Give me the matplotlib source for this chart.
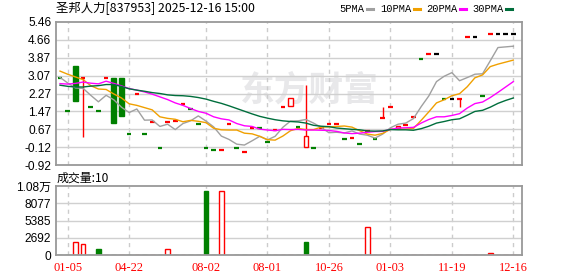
import matplotlib
matplotlib.use('Agg')
import matplotlib.pyplot as plt
from matplotlib.lines import Line2D

# datos (60 velas)
aperturas = [2.94, 1.48, 3.49, 2.94, 1.65, 1.48, 2.94, 2.95, 2.95, 0.45,
             2.27, 0.45, 0.98, -0.16, 0.98, 1.04, 1.80, 1.60, 0.93, -0.16,
             -0.27, -0.27, 0.89, -0.16, -0.36, 0.71, 0.71, 0.09, 0.66, 1.65,
             1.71, 0.76, -0.13, -0.16, 0.71, 0.89, 0.89, 0.24, 0.28, 0.02,
             0.61, 0.24, 1.16, 1.65, 0.72, 0.85, 1.23, 3.83, 4.05, 4.05,
             2.03, 2.03, 2.03, 4.78, 4.78, 2.14, 4.94, 4.94, 4.94, 4.94]
cierres = [2.94, 1.48, 1.94, 2.94, 1.65, 1.48, 2.94, 0.96, 1.28, 0.45,
           2.27, 0.45, 0.98, -0.16, 0.98, 1.04, 1.80, 1.60, 0.93, -0.16,
           -0.27, -0.27, 0.89, -0.16, -0.36, 0.71, 0.71, 0.09, 0.66, 1.65,
           2.09, 0.76, 0.39, -0.16, 0.71, 0.89, 0.89, 0.24, 0.28, 0.02,
           0.61, 0.24, 1.16, 1.65, 0.84, 0.85, 1.23, 3.83, 4.05, 4.05,
           2.03, 2.03, 2.03, 4.78, 4.78, 2.14, 4.94, 4.94, 4.94, 4.94]
maximos = [2.94, 1.48, 3.49, 2.94, 1.65, 1.48, 2.94, 2.95, 2.95, 0.45,
           2.27, 0.45, 0.98, -0.16, 0.98, 1.04, 1.80, 1.60, 0.93, -0.16,
           -0.27, -0.27, 0.89, -0.16, -0.36, 0.71, 0.71, 0.09, 0.66, 1.65,
           2.09, 0.76, 2.63, -0.16, 0.71, 0.89, 0.89, 0.24, 0.28, 0.02,
           0.61, 0.24, 1.65, 1.65, 0.84, 0.85, 1.23, 3.83, 4.05, 4.05,
           2.03, 2.03, 2.03, 4.78, 4.78, 2.14, 4.94, 4.94, 4.94, 4.94]
minimos = [2.94, 1.48, 1.94, 0.31, 1.65, 1.48, 2.94, 0.96, 1.28, 0.45,
           2.27, 0.45, 0.98, -0.16, 0.98, 1.04, 1.80, 1.60, 0.93, -0.16,
           -0.27, -0.27, 0.89, -0.16, -0.36, 0.71, 0.71, 0.09, 0.66, 1.65,
           1.71, 0.76, -0.13, -0.16, 0.71, 0.89, 0.89, 0.24, 0.28, 0.02,
           0.61, 0.24, 1.16, 1.65, 0.72, 0.85, 1.23, 3.83, 4.05, 4.05,
           2.03, 2.03, 1.68, 4.78, 4.78, 2.14, 4.94, 4.94, 4.94, 4.94]
colores_vela = "gggrggrggg" "rgrgrrrggg" "grrgrrggrr" "rgrgrrrgrg" "rgrrrrrgrk" "gkrrkgrkkk"

volumen = [10, 10, 2050, 1720, 10, 980, 10, 10, 10, 10,
           10, 10, 10, 10, 900, 10, 10, 10, 10, 10000,
           10, 10000, 0, 10, 10, 10, 10, 10, 10, 10,
           10, 10, 2030, 10, 10, 10, 10, 10, 10, 10,
           4330, 10, 10, 10, 10, 10, 10, 10, 10, 10,
           10, 10, 10, 10, 10, 10, 300, 10, 10, 10]
colores_vol = "ggrrggrgrg" "rgrgrrrggg" "grrggrggrr" "rgggrrggrg" "rgrrgrrrrr" "grrrrgrrrr"

ma5 = [2.99, 2.74, 2.52, 2.50, 2.19, 1.90, 2.19, 1.99, 1.66, 1.42,
       1.58, 1.08, 1.09, 0.80, 0.90, 0.66, 0.93, 1.05, 1.27, 1.04,
       0.78, 0.37, 0.22, 0.01, -0.03, 0.16, 0.36, 0.20, 0.36, 0.76,
       1.04, 1.05, 1.11, 0.95, 0.76, 0.52, 0.54, 0.51, 0.60, 0.46,
       0.41, 0.28, 0.46, 0.74, 0.90, 0.95, 1.15, 1.68, 2.16, 2.80,
       3.04, 3.20, 2.84, 2.98, 3.13, 3.15, 3.73, 4.32, 4.35, 4.38]
ma10 = [3.27, 3.13, 3.01, 2.89, 2.62, 2.47, 2.45, 2.25, 2.07, 1.81,
        1.74, 1.64, 1.54, 1.23, 1.16, 1.12, 1.01, 1.07, 1.03, 0.97,
        0.72, 0.65, 0.64, 0.64, 0.50, 0.47, 0.36, 0.21, 0.19, 0.37,
        0.61, 0.71, 0.66, 0.66, 0.77, 0.78, 0.80, 0.82, 0.77, 0.61,
        0.46, 0.41, 0.49, 0.67, 0.68, 0.68, 0.71, 1.07, 1.45, 1.85,
        1.99, 2.17, 2.26, 2.57, 2.97, 3.10, 3.47, 3.58, 3.67, 3.76]
ma20 = [2.71, 2.69, 2.72, 2.78, 2.73, 2.70, 2.82, 2.72, 2.61, 2.49,
        2.42, 2.34, 2.24, 2.12, 2.00, 1.85, 1.74, 1.60, 1.47, 1.39,
        1.23, 1.14, 1.09, 0.93, 0.83, 0.80, 0.68, 0.64, 0.61, 0.67,
        0.66, 0.67, 0.64, 0.64, 0.63, 0.62, 0.58, 0.51, 0.48, 0.50,
        0.54, 0.57, 0.58, 0.67, 0.73, 0.74, 0.76, 0.95, 1.11, 1.23,
        1.23, 1.29, 1.37, 1.62, 1.82, 1.89, 2.09, 2.32, 2.56, 2.80]
ma30 = [2.64, 2.59, 2.56, 2.56, 2.60, 2.62, 2.67, 2.67, 2.58, 2.48,
        2.42, 2.37, 2.31, 2.27, 2.21, 2.18, 2.17, 2.14, 2.09, 2.02,
        1.92, 1.83, 1.72, 1.60, 1.48, 1.36, 1.25, 1.17, 1.10, 1.05,
        1.02, 1.00, 0.95, 0.85, 0.81, 0.79, 0.73, 0.70, 0.67, 0.65,
        0.60, 0.59, 0.60, 0.66, 0.65, 0.65, 0.63, 0.70, 0.81, 0.95,
        1.02, 1.10, 1.14, 1.30, 1.47, 1.52, 1.66, 1.83, 1.96, 2.07]

fechas = ['01-05', '04-22', '08-02', '08-01', '10-26', '01-03', '11-19', '12-16']
pos_fechas = [1, 9, 19, 27, 35, 43, 51, 59]
ticks_precio = [5.46, 4.66, 3.87, 3.07, 2.27, 1.47, 0.67, -0.12, -0.92]
ticks_vol = [0, 2692, 5385, 8077, 10770]
etiquetas_vol = ['0', '2692', '5385', '8077', '1.08万']

ROJO = '#ff0000'
VERDE = '#008000'
col = {'r': ROJO, 'g': VERDE, 'k': '#000000'}
CJK = ['Noto Sans CJK SC', 'DejaVu Sans']

fig = plt.figure(figsize=(5.78, 2.76), dpi=100)
ax = fig.add_axes([56/578, 111/276, 466/578, 143/276])
axv = fig.add_axes([56/578, 21/276, 466/578, 69/276])

x = list(range(len(cierres)))
ancho = 0.6

for a in (ax, axv):
    a.set_xlim(-0.52, 60.13)
    for s in a.spines.values():
        s.set_color('#999999')
        s.set_linewidth(1.3)
    a.tick_params(length=0, labelsize=8.6)
    for p in pos_fechas:
        a.axvline(p, color='#cccccc', lw=1, ls=(0, (3, 3)), zorder=0.6)

# panel de precio
ax.set_ylim(-0.92, 5.46)
ax.set_yticks(ticks_precio)
ax.set_yticklabels(['%.2f' % t for t in ticks_precio], family='Liberation Sans')
ax.tick_params(axis='y', pad=3.5)
ax.set_xticks([])
for t in ticks_precio[1:-1]:
    ax.axhline(t, color='#d0d0d0', lw=1, zorder=0.6)

ax.text(309/578, 1 - 90/276, '东方财富', transform=fig.transFigure, fontsize=25,
        family=CJK, weight='bold', color='#e8e8ea', ha='center', va='center', zorder=0.5)

for i in x:
    c = col[colores_vela[i]]
    o, h, l, cl = aperturas[i], maximos[i], minimos[i], cierres[i]
    if h > max(o, cl) or l < min(o, cl):
        ax.vlines(i, l, h, color=c, lw=1, zorder=2)
    if o == cl:
        ax.hlines(cl, i - ancho/2, i + ancho/2, color=c, lw=1.6, zorder=2)
    else:
        cara = 'white' if cl > o else c
        ax.bar(i, abs(cl - o), bottom=min(o, cl), width=ancho, facecolor=cara,
               edgecolor=c, lw=1, zorder=2)

ax.plot(x, ma5, color='#a0a0a0', lw=1, zorder=3)
ax.plot(x, ma10, color='#f0a000', lw=1, zorder=3)
ax.plot(x, ma20, color='#ff00ff', lw=1, zorder=3)
ax.plot(x, ma30, color='#006e3c', lw=1, zorder=3)

# panel de volumen
axv.set_ylim(0, 10770)
axv.set_yticks(ticks_vol)
axv.set_yticklabels(etiquetas_vol, family=['Liberation Sans', 'Noto Sans CJK SC'])
axv.tick_params(axis='y', pad=3.5)
for t in ticks_vol[1:-1]:
    axv.axhline(t, color='#d0d0d0', lw=1, zorder=0.6)
for i in x:
    if volumen[i] <= 0:
        continue
    c = col[colores_vol[i]]
    cara = 'white' if colores_vol[i] == 'r' else c
    axv.bar(i, volumen[i], width=ancho, facecolor=cara, edgecolor=c, lw=1, zorder=2)
axv.set_xticks(pos_fechas)
axv.set_xticklabels(fechas, color=ROJO, family='Liberation Serif', fontsize=8.9)
axv.tick_params(axis='x', pad=5)

# textos de cabecera
fig.text(56/578, 1 - 8.5/276, '圣邦人力[837953] 2025-12-16 15:00', family=CJK,
         fontsize=8.9, va='center', ha='left')
leyenda = [('5PMA', 339, '#a0a0a0'), ('10PMA', 380, '#f0a000'),
           ('20PMA', 426, '#ff00ff'), ('30PMA', 472, '#006e3c')]
for txt, px, c in leyenda:
    fig.text(px/578, 1 - 9/276, txt, family='Liberation Mono', fontsize=7.5,
             va='center', ha='left')
    fin = px + 6.2 * len(txt) + 3
    fig.add_artist(Line2D([fin/578, (fin + 6)/578], [1 - 8.5/276] * 2,
                          color=c, lw=2.2, transform=fig.transFigure))
fig.text(57/578, 1 - 178/276, '成交量:10', family=CJK, fontsize=8.6,
         va='center', ha='left')

fig.savefig('out.png', dpi=100)
